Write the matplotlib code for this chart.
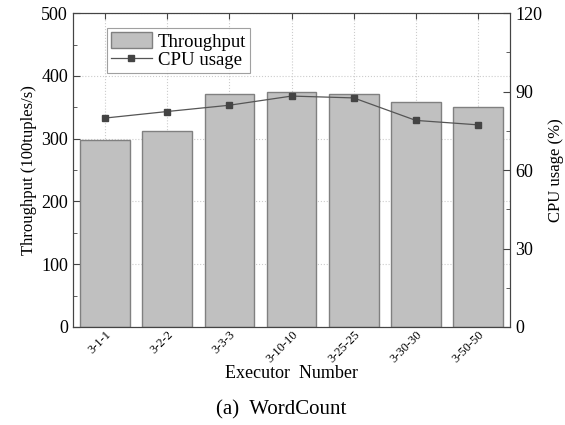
import matplotlib
matplotlib.use("Agg")
import matplotlib.pyplot as plt
from matplotlib.ticker import MultipleLocator
import numpy as np

categories = ["3-1-1", "3-2-2", "3-3-3", "3-10-10", "3-25-25", "3-30-30", "3-50-50"]
throughput = [298, 312, 371, 374, 371, 358, 350]
cpu_usage = [79.9, 82.4, 84.8, 88.3, 87.6, 79.0, 77.3]

plt.rcParams['font.family'] = ['Liberation Serif', 'DejaVu Serif']

fig = plt.figure(figsize=(5.65, 4.25), dpi=100)
ax = fig.add_axes([0.129, 0.2306, 0.774, 0.7384])
x = np.arange(len(categories))

ax.grid(True, which='major', linestyle=':', color='#cccccc', linewidth=0.8)
ax.set_axisbelow(True)
bars = ax.bar(x, throughput, width=0.8, color='#c0c0c0', edgecolor='#808080',
              linewidth=1.0, label='Throughput', zorder=2)
ax.set_xlim(-0.52, 6.52)
ax.set_ylim(0, 500)
ax.yaxis.set_major_locator(MultipleLocator(100))
ax.yaxis.set_minor_locator(MultipleLocator(50))
ax.set_xticks(x)
ax.set_xticklabels(categories, rotation=45, ha='right', rotation_mode='anchor', fontsize=9)
ax.tick_params(axis='y', which='both', direction='in', labelsize=13, color='#444444')
ax.tick_params(axis='y', which='major', length=5)
ax.tick_params(axis='y', which='minor', length=3)
ax.tick_params(axis='x', which='major', direction='in', length=4, color='#444444',
               top=True, pad=1)
ax.set_ylabel('Throughput (100tuples/s)', fontsize=12, labelpad=3)
ax.set_xlabel('Executor  Number', fontsize=13)
ax.xaxis.set_label_coords(0.5, -0.122)
for s in ax.spines.values():
    s.set_color('#444444')

ax2 = ax.twinx()
line, = ax2.plot(x, cpu_usage, color='#555555', linewidth=0.9, marker='s',
                 markersize=5, markerfacecolor='#444444', markeredgecolor='#444444',
                 label='CPU usage', zorder=3)
ax2.set_ylim(0, 120)
ax2.yaxis.set_major_locator(MultipleLocator(30))
ax2.yaxis.set_minor_locator(MultipleLocator(15))
ax2.tick_params(axis='y', which='both', direction='in', labelsize=13, color='#444444')
ax2.tick_params(axis='y', which='major', length=5)
ax2.tick_params(axis='y', which='minor', length=3)
ax2.set_ylabel('CPU usage (%)', fontsize=12)
for s in ax2.spines.values():
    s.set_color('#444444')

leg = ax2.legend([bars, line], ['Throughput', 'CPU usage'], loc='upper left',
                 bbox_to_anchor=(0.078, 0.952), fontsize=13.5, frameon=True, fancybox=False,
                 edgecolor='#888888', handlelength=2.2, handleheight=0.95,
                 borderpad=0.2, labelspacing=0.0, handletextpad=0.3, borderaxespad=0)
leg.get_frame().set_linewidth(0.8)

fig.text(0.498, 0.035, '(a)  WordCount', ha='center', va='center', fontsize=15)

fig.savefig('out.png', dpi=100)
